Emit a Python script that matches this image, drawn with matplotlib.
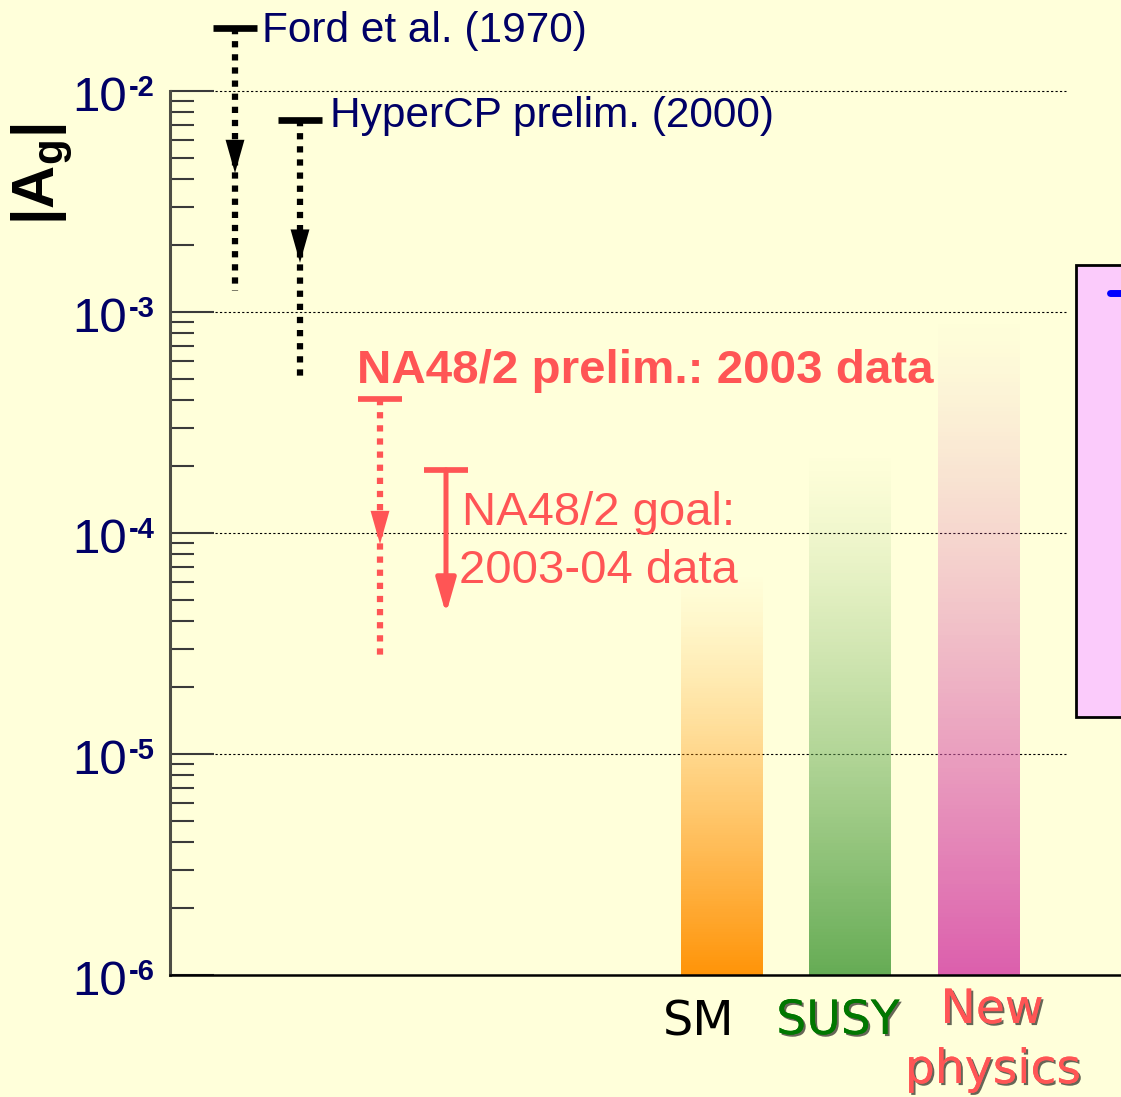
import numpy as np
import matplotlib.pyplot as plt
import matplotlib.patheffects as pe
from matplotlib.patches import Rectangle
from matplotlib.colors import to_rgb

plt.rcParams['font.family'] = ['Liberation Sans', 'DejaVu Sans']
plt.rcParams['mathtext.fontset'] = 'custom'
plt.rcParams['mathtext.rm'] = 'Liberation Sans'
plt.rcParams['mathtext.bf'] = 'Liberation Sans:bold'
plt.rcParams['mathtext.it'] = 'Liberation Sans:italic'

BG = '#FFFFDA'
NAVY = '#000066'
RED = '#FF5555'

# measured upper limits on |A_g|
exp_names = ['Ford et al. (1970)', 'HyperCP prelim. (2000)',
             'NA48/2 prelim.: 2003 data', 'NA48/2 goal:']
exp_limit = [1.93e-2, 7.4e-3, 4.06e-4, 1.93e-4]
exp_arrow = [4.25e-3, 1.67e-3, 8.9e-5, 4.3e-5]
exp_tail = [1.25e-3, 4.9e-4, 2.69e-5, 4.3e-5]
exp_x = [235, 300, 380, 446]
exp_color = ['black', 'black', RED, RED]
exp_dotted = [True, True, True, False]

# theoretical expectations (upper end of each band)
theory_names = ['SM', 'SUSY', 'New\nphysics']
theory_max = [6.7e-5, 2.35e-4, 9.6e-4]
theory_color = ['#FF9408', '#66AC55', '#DC5FAD']
theory_x = [721.5, 849.5, 978.5]
theory_width = 82

major = [1e-6, 1e-5, 1e-4, 1e-3, 1e-2]
minor = [m * 10.0**k for k in range(-6, -2) for m in range(2, 10)]

W, H = 1121, 1097
Y0 = 975        # pixel row of the x axis
DEC = 221.0     # pixels per decade
fig = plt.figure(figsize=(W / 100, H / 100), dpi=100, facecolor=BG)
ax = fig.add_axes([170 / W, (H - Y0) / H, (W - 170) / W, Y0 / H])
ax.set_facecolor(BG)
ax.set_xlim(170, W)
ax.set_yscale('log')
ax.set_ylim(1e-6, 10 ** (-6 + Y0 / DEC))


def fig_text(x, y, s, **kw):
    return fig.text(x / W, 1 - y / H, s, **kw)


# axis styling
for s in ['top', 'right']:
    ax.spines[s].set_visible(False)
ax.spines['left'].set_bounds(1e-6, 1e-2)
ax.spines['left'].set_color('#4d4d45')
ax.spines['left'].set_linewidth(2.2)
ax.spines['bottom'].set_color('black')
ax.spines['bottom'].set_linewidth(1.8)
ax.set_xticks([])
ax.set_yticks(major)
ax.set_yticks(minor, minor=True)
ax.set_yticklabels([])
ax.set_yticklabels([], minor=True)
ax.tick_params(axis='y', which='major', direction='in', length=32, width=1.5, color='#3a3a3a')
ax.tick_params(axis='y', which='minor', direction='in', length=17, width=1.5, color='#3a3a3a')

# dotted grid lines
ax.hlines(major[1:], 215, 1066, colors='black', lw=0.8, linestyles=(0, (2, 2)), zorder=1)

# tick labels 10^k
for v in major:
    k = int(round(np.log10(v)))
    ax.annotate('10', xy=(127, v), xytext=(0, -20), textcoords='offset pixels',
                ha='right', va='baseline', fontsize=35.5, color=NAVY, annotation_clip=False)
    ax.annotate('-%d' % -k, xy=(129, v), xytext=(0, -5), textcoords='offset pixels',
                ha='left', va='baseline', fontsize=21, fontweight='bold', color=NAVY,
                annotation_clip=False)

fig_text(42, 174, r'$\mathbf{|A_g|}$', rotation=90, ha='center', va='center',
         fontsize=43, color='black')

# theory bands: colour fading out towards the top
for x, top, c in zip(theory_x, theory_max, theory_color):
    edges = np.logspace(-6, np.log10(top), 160)
    frac = np.linspace(0, 1, len(edges) - 1)
    rgb = to_rgb(c)
    cols = [(rgb[0], rgb[1], rgb[2], (1 - f) ** 1.25) for f in frac]
    ax.bar(np.full(len(frac), x), np.diff(edges), bottom=edges[:-1],
           width=theory_width, color=cols, linewidth=0, zorder=2)

# piece of the neighbouring panel
ax.add_patch(Rectangle((1076, 1.47e-5), 100, 1.63e-3 - 1.47e-5, facecolor='#FBCBFB',
                       edgecolor='black', lw=2, zorder=3))
ax.plot([1110, 1130], [1.22e-3, 1.22e-3], color='#0000FF', lw=5,
        solid_capstyle='round', zorder=4)

# upper limits with arrows
for x, lim, tip, tail, c, dotted in zip(exp_x, exp_limit, exp_arrow, exp_tail,
                                        exp_color, exp_dotted):
    cap_lw = 4.8 if c == 'black' else 4.1
    ax.hlines(lim, x - 22, x + 22, colors=c, lw=cap_lw, zorder=5)
    if dotted:
        ax.plot([x, x], [lim, tail], color=c, lw=4.5, ls=(0, (1, 1.1)), zorder=5)
        ax.annotate('', xy=(x, tip), xytext=(x, tip * 1.3),
                    arrowprops=dict(arrowstyle='-|>,head_length=1.2,head_width=0.34',
                                    mutation_scale=20, color=c, lw=0,
                                    shrinkA=0, shrinkB=0), zorder=6)
    else:
        ax.annotate('', xy=(x, tip), xytext=(x, lim),
                    arrowprops=dict(arrowstyle='-|>,head_length=1.05,head_width=0.3',
                                    mutation_scale=20, color=c, lw=3.6,
                                    shrinkA=0, shrinkB=0), zorder=6)

# labels of the measurements
fig_text(262, 42, exp_names[0], fontsize=30.5, color=NAVY, va='baseline')
fig_text(330, 127, exp_names[1], fontsize=30.5, color=NAVY, va='baseline')
fig_text(357, 383, exp_names[2], fontsize=34.2, color=RED, fontweight='bold', va='baseline')
fig_text(462, 525, exp_names[3], fontsize=34, color=RED, va='baseline')
fig_text(459, 583, '2003-04 data', fontsize=34, color=RED, va='baseline')

# band labels
shadow = [pe.withSimplePatchShadow(offset=(1.5, -1.5), shadow_rgbFace='black', alpha=0.6),
          pe.Normal()]
fig_text(699, 1036, theory_names[0], fontsize=34.5, color='black', ha='center',
         va='baseline', family='DejaVu Sans')
fig_text(838, 1034, theory_names[1], fontsize=34, color='#007700', ha='center',
         va='baseline', family='DejaVu Sans', path_effects=shadow)
fig_text(992, 1023, 'New', fontsize=34, color=RED, ha='center',
         va='baseline', family='DejaVu Sans', path_effects=shadow)
fig_text(993, 1083, 'physics', fontsize=34, color=RED, ha='center',
         va='baseline', family='DejaVu Sans', path_effects=shadow)

fig.savefig('out.png', dpi=100, facecolor=BG)
